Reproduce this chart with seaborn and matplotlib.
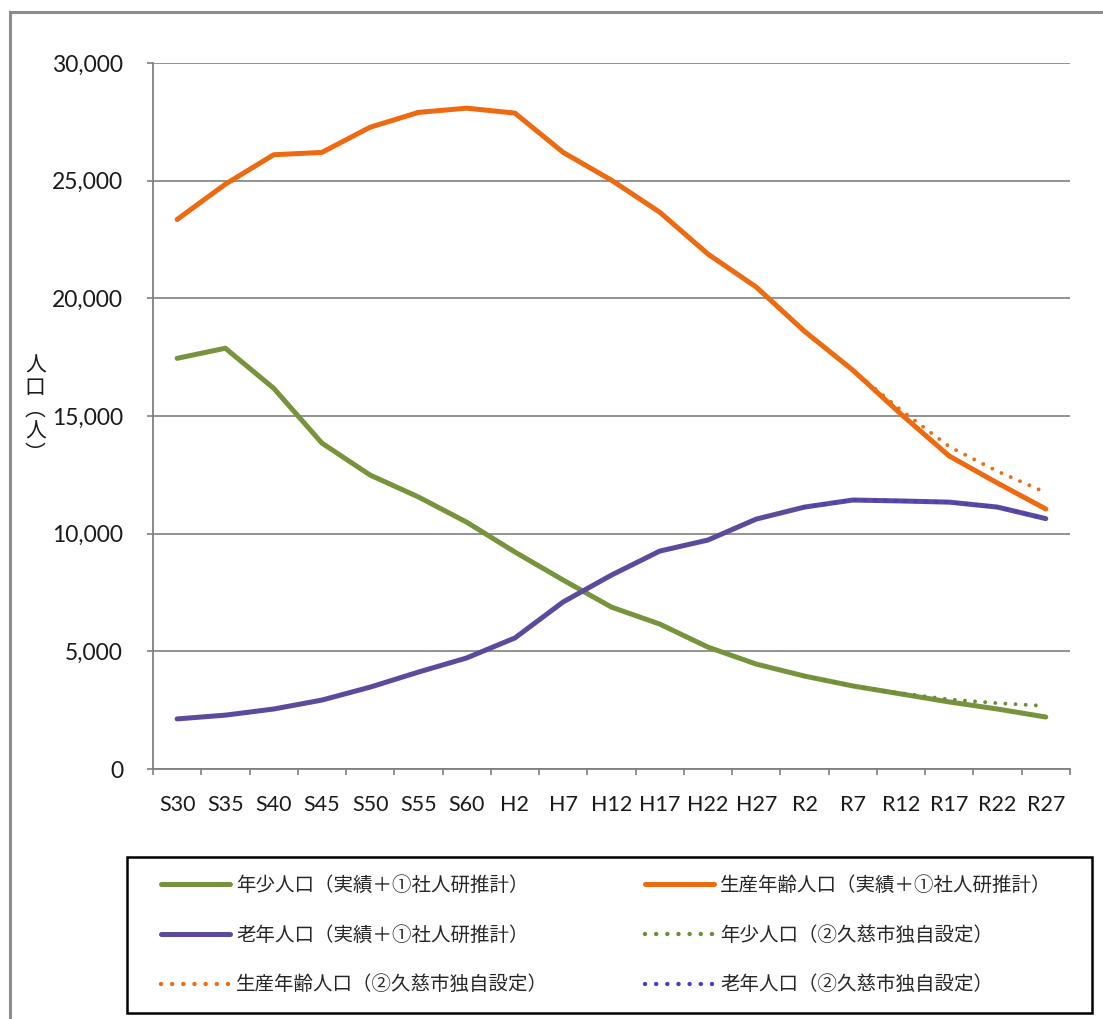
import matplotlib
matplotlib.use("Agg")
import matplotlib.pyplot as plt
import matplotlib.patches as mpatches
from matplotlib.lines import Line2D
from matplotlib.ticker import FuncFormatter, FixedLocator
import seaborn as sns
import pandas as pd

# Census years (Showa / Heisei / Reiwa)
periods = ["S30", "S35", "S40", "S45", "S50", "S55", "S60", "H2", "H7", "H12",
           "H17", "H22", "H27", "R2", "R7", "R12", "R17", "R22", "R27"]

# Actual + IPSS projection (①)
youth = [17450, 17880, 16180, 13850, 12490, 11560, 10490, 9220, 8030, 6880,
         6160, 5180, 4460, 3950, 3530, 3190, 2850, 2550, 2210]
working = [23350, 24850, 26100, 26200, 27270, 27900, 28080, 27870, 26200, 25020,
           23660, 21880, 20480, 18600, 16950, 15080, 13300, 12150, 11050]
elderly = [2130, 2290, 2550, 2930, 3480, 4120, 4720, 5570, 7100, 8240,
           9260, 9730, 10620, 11130, 11430, 11390, 11340, 11130, 10640]

# City's own scenario (②), from R2 onward
own_periods = ["R2", "R7", "R12", "R17", "R22", "R27"]
youth_own = [3950, 3530, 3220, 2960, 2800, 2680]
working_own = [18600, 16950, 15250, 13700, 12650, 11750]
elderly_own = [11130, 11430, 11390, 11340, 11130, 10640]

lab_youth = "年少人口（実績＋①社人研推計）"
lab_work = "生産年齢人口（実績＋①社人研推計）"
lab_old = "老年人口（実績＋①社人研推計）"
lab_youth2 = "年少人口（②久慈市独自設定）"
lab_work2 = "生産年齢人口（②久慈市独自設定）"
lab_old2 = "老年人口（②久慈市独自設定）"

c_youth = "#77933C"
c_work = "#EE6A10"
c_old = "#5C4A9C"
c_youth2 = "#6E8C3A"
c_work2 = "#EA6E14"
c_old2 = "#4B3CC4"

sns.set_theme(style="white")
plt.rcParams["font.family"] = ["Noto Sans CJK JP", "DejaVu Sans"]

fig = plt.figure(figsize=(11.03, 10.19), dpi=100)
ax = fig.add_axes([0.1387, 0.2453, 0.8313, 0.6929])

solid = pd.DataFrame({
    "period": periods * 3,
    "value": youth + working + elderly,
    "series": [lab_youth] * 19 + [lab_work] * 19 + [lab_old] * 19,
})
own = pd.DataFrame({
    "period": own_periods * 3,
    "value": youth_own + working_own + elderly_own,
    "series": [lab_youth2] * 6 + [lab_work2] * 6 + [lab_old2] * 6,
})
pos = {p: i for i, p in enumerate(periods)}
solid["x"] = solid["period"].map(pos)
own["x"] = own["period"].map(pos)

sns.lineplot(data=solid, x="x", y="value", hue="series",
             palette={lab_youth: c_youth, lab_work: c_work, lab_old: c_old},
             linewidth=3.6, ax=ax, legend=False, zorder=3,
             solid_capstyle="round", solid_joinstyle="round")
sns.lineplot(data=own, x="x", y="value", hue="series",
             palette={lab_youth2: c_youth2, lab_work2: c_work2, lab_old2: c_old2},
             linewidth=2.8, ax=ax, legend=False, zorder=4,
             dashes=False)
for line in ax.lines[3:]:
    line.set_linestyle((0, (0.01, 2.6)))
    line.set_dash_capstyle("round")

ax.set_xlim(-0.5, 18.5)
ax.set_ylim(0, 30000)
ax.set_xticks(range(len(periods)))
ax.set_xticklabels(periods, fontfamily="Lato", fontsize=15.5, color="#1a1a1a")
ax.xaxis.set_minor_locator(FixedLocator([i - 0.5 for i in range(len(periods) + 1)]))
ax.tick_params(axis="x", which="major", length=0, pad=19)
ax.tick_params(axis="x", which="minor", length=4.5, width=1.2, color="#7f7f7f",
               direction="out", bottom=True)
ax.set_yticks(range(0, 30001, 5000))
ax.yaxis.set_major_formatter(FuncFormatter(lambda v, _: f"{int(v):,}"))
ax.tick_params(axis="y", which="major", length=4.5, width=1.2, color="#7f7f7f",
               direction="out", left=True, pad=17, labelsize=16.5, labelcolor="#1a1a1a")
for t in ax.get_yticklabels():
    t.set_fontfamily("Lato")
ax.grid(axis="y", color="#8a8a8a", linewidth=1.3)
ax.set_axisbelow(True)
for side in ["top", "right"]:
    ax.spines[side].set_visible(False)
for side in ["left", "bottom"]:
    ax.spines[side].set_color("#7f7f7f")
    ax.spines[side].set_linewidth(1.3)
ax.set_xlabel("")
ax.set_ylabel("")

# Vertical axis title
fig.text(0.032, 0.652, "人\n口\n︵\n人\n︶", ha="center", va="top",
         fontsize=15, linespacing=1.0, color="#1a1a1a")

# Legend: two columns of entries inside a framed box below the plot
dot = dict(lw=3.2, linestyle=(0, (0.01, 2.5)), dash_capstyle="round")
col1 = ([Line2D([], [], color=c_youth, lw=3.6),
         Line2D([], [], color=c_old, lw=3.6),
         Line2D([], [], color=c_work2, **dot)],
        [lab_youth, lab_old, lab_work2])
col2 = ([Line2D([], [], color=c_work, lw=3.6),
         Line2D([], [], color=c_youth2, **dot),
         Line2D([], [], color=c_old2, **dot)],
        [lab_work, lab_youth2, lab_old2])
for (hs, ls), x0 in [(col1, 0.146), (col2, 0.5848)]:
    fig.legend(hs, ls, loc="center left", bbox_to_anchor=(x0, 0.0824),
               fontsize=14, frameon=False, borderpad=0, borderaxespad=0,
               handlelength=3.55, handletextpad=0.3, labelspacing=1.48)

fig.patches.append(mpatches.Rectangle((127 / 1103, 1 - 1013 / 1019),
                                      (1092 - 127) / 1103, (1013 - 857) / 1019,
                                      transform=fig.transFigure, fill=False,
                                      edgecolor="#000000", linewidth=1.8))

# Outer chart border
fig.patches.append(mpatches.Rectangle((0.009, -0.01), 1.0, 0.998, transform=fig.transFigure,
                                      fill=False, edgecolor="#8c8c8c", linewidth=2.2))

fig.savefig("out.png", dpi=100, facecolor="white")
